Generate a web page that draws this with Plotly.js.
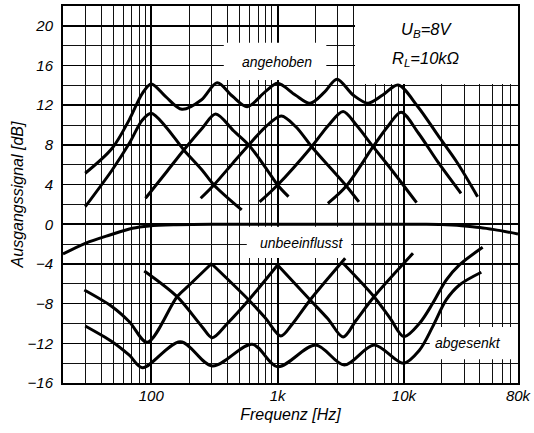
<!DOCTYPE html>
<html><head><meta charset="utf-8">
<script src="https://cdn.plot.ly/plotly-3.0.1.min.js"></script>
<style>html,body{margin:0;padding:0;background:#fff;}#chart{width:534px;height:433px;}</style>
</head><body><div id="chart"></div>
<script>
// ---- data ----
const xTickVals = [100, 1000, 10000, 80000];
const xTickText = ['100', '1k', '10k', '80k'];
const xMinorVals = [20,30,40,50,60,70,80,90,200,300,400,500,600,700,800,900,2000,3000,4000,5000,6000,7000,8000,9000,20000,30000,40000,50000,60000,70000];
const yTickVals = [-16,-12,-8,-4,0,4,8,12,16,20];
const yTickText = ['\u221216','\u221212','\u22128','\u22124','0','4','8','12','16','20'];
const yMinorVals = [-14,-10,-6,-2,2,6,10,14,18];

// angehoben (boost)
const upEnvF = [30,49,67,85,100,130,175,250,332,440,574,800,1000,1380,1810,2370,2950,3960,5200,6800,8980,12900,18500,26600,38300];
const upEnvV = [5.14,7.66,10.55,13.2,14.14,12.86,11.59,12.55,14.27,12.9,11.85,13.37,14.21,13.03,12.2,13.37,14.62,13.03,12.2,13.03,14.04,11.85,9.0,6.15,2.78];
const b100F = [30,49,67,85,100,130,181,252,313,520];
const b100V = [1.77,5.47,8.16,10.51,11.19,9.84,7.49,5.47,3.96,1.44];
const b330F = [90,130,181,252,323,450,591,800,1000,1220];
const b330V = [2.62,5.17,7.49,9.66,11.12,9.4,7.99,5.74,3.96,2.78];
const b1kF = [246,313,450,591,800,1070,1400,1860,2600,3500,4400];
const b1kV = [2.62,3.96,6.28,7.99,9.8,10.92,9.8,7.82,5.72,3.86,2.25];
const b3kF = [720,1000,1860,2500,3300,4200,5700,8000,12600];
const b3kV = [2.25,3.96,7.82,9.9,11.37,10.0,7.82,5.47,2.18];
const b10kF = [2500,3500,5700,7500,9500,13000,18500,28300];
const b10kV = [2.11,3.86,7.82,9.9,11.3,9.2,6.31,3.12];

// unbeeinflusst (flat)
const flatF = [20,30,47,71,96,150,300,1000,3000,10000,15000,20000,24000,28600,40000,52000,80000];
const flatV = [-3.0,-1.92,-1.08,-0.4,-0.17,-0.05,0,0,0,0,0,-0.02,-0.07,-0.14,-0.32,-0.54,-0.98];

// abgesenkt (cut)
const n100F = [29.5,49,67,93,160,200,302];
const n100V = [-6.63,-8.31,-9.82,-11.9,-7.3,-6.12,-3.93];
const n330F = [88,160,252,304,400,591,1000];
const n330V = [-4.71,-7.3,-10.32,-11.43,-10.0,-7.63,-4.1];
const n1kF = [303,591,800,1060,1300,1810,3430];
const n1kV = [-4.03,-7.63,-9.45,-11.26,-10.1,-7.63,-3.43];
const n3kF = [1000,1810,2500,3300,4200,5800,11800];
const n3kV = [-4.1,-7.63,-9.53,-11.36,-9.65,-7.3,-2.93];
const n10kF = [3300,5800,7800,10000,13300,16900,21600,27500,42000];
const n10kV = [-3.93,-7.3,-9.5,-11.33,-9.98,-7.97,-5.62,-4.1,-2.32];
const loEnvF = [30,49,67,85,170,304,630,1000,2000,3370,5800,9900,13300,16900,21600,27500,41000];
const loEnvV = [-10.25,-11.84,-13.2,-14.46,-11.84,-14.29,-12.1,-14.36,-12.17,-14.19,-12.17,-14.01,-12.67,-10.32,-7.63,-6.12,-4.84];

const series = [
  ['angehoben', upEnvF, upEnvV], ['100 Hz +', b100F, b100V], ['330 Hz +', b330F, b330V],
  ['1 kHz +', b1kF, b1kV], ['3.3 kHz +', b3kF, b3kV], ['10 kHz +', b10kF, b10kV],
  ['unbeeinflusst', flatF, flatV],
  ['100 Hz \u2212', n100F, n100V], ['330 Hz \u2212', n330F, n330V], ['1 kHz \u2212', n1kF, n1kV],
  ['3.3 kHz \u2212', n3kF, n3kV], ['10 kHz \u2212', n10kF, n10kV], ['abgesenkt', loEnvF, loEnvV]
];

const traces = series.map(s => ({
  type: 'scatter', mode: 'lines', name: s[0], x: s[1], y: s[2],
  line: {color: '#000', width: 3, shape: 'spline', smoothing: 0.9},
  hoverinfo: 'x+y'
}));

const FONT = 'Liberation Sans, Arial, sans-serif';
const tf = (size) => ({family: FONT, size: size, style: 'italic', color: '#000'});
const L = Math.log10;

const whiteBox = (x0, x1, y0, y1) => ({type: 'rect', xref: 'x', yref: 'y', x0: x0, x1: x1, y0: y0, y1: y1,
  fillcolor: '#fff', line: {width: 0}, layer: 'between'});

const layout = {
  width: 534, height: 433,
  margin: {l: 63, r: 16, t: 6, b: 50},
  paper_bgcolor: '#fff', plot_bgcolor: '#fff',
  showlegend: false,
  xaxis: {
    type: 'log', range: [L(20), L(80000)],
    tickmode: 'array', tickvals: xTickVals, ticktext: xTickText,
    showgrid: true, gridcolor: '#000', gridwidth: 2,
    minor: {tickmode: 'array', tickvals: xMinorVals, showgrid: true, gridcolor: '#111', gridwidth: 1, ticks: ''},
    showline: true, mirror: true, linecolor: '#000', linewidth: 2,
    ticks: '', ticklabelstandoff: -2, zeroline: false,
    tickfont: tf(15),
    title: {text: 'Frequenz [Hz]', font: tf(16), standoff: 6}
  },
  yaxis: {
    range: [-16, 22],
    tickmode: 'array', tickvals: yTickVals, ticktext: yTickText,
    showgrid: true, gridcolor: '#000', gridwidth: 1.6,
    minor: {tickmode: 'array', tickvals: yMinorVals, showgrid: true, gridcolor: '#111', gridwidth: 1, ticks: ''},
    showline: true, mirror: true, linecolor: '#000', linewidth: 2,
    ticks: '', ticklabelstandoff: 5, zeroline: false,
    tickfont: tf(15),
    title: {text: 'Ausgangssignal [dB]', font: tf(16), standoff: 0}
  },
  shapes: [
    whiteBox(4100, 80000, 14.15, 22),
    whiteBox(375, 2430, 14.55, 18.3),
    whiteBox(570, 3830, -3.4, -0.25),
    whiteBox(16000, 80000, -13.6, -10.35)
  ],
  annotations: [
    {x: L(986), y: 16.4, xref: 'x', yref: 'y', text: 'angehoben', showarrow: false, font: tf(14)},
    {x: L(1560), y: -1.92, xref: 'x', yref: 'y', text: 'unbeeinflusst', showarrow: false, font: tf(14)},
    {x: 4.504, y: -11.94, xref: 'x', yref: 'y', text: 'abgesenkt', showarrow: false, font: tf(14)},
    {x: 4.181, y: 19.58, xref: 'x', yref: 'y', text: 'U<sub>B</sub>=8V', showarrow: false, font: tf(16.5)},
    {x: 4.173, y: 16.66, xref: 'x', yref: 'y', text: 'R<sub>L</sub>=10k\u03A9', showarrow: false, font: tf(16.5)}
  ]
};

Plotly.newPlot('chart', traces, layout, {staticPlot: true, displayModeBar: false});
</script>
</body></html>
